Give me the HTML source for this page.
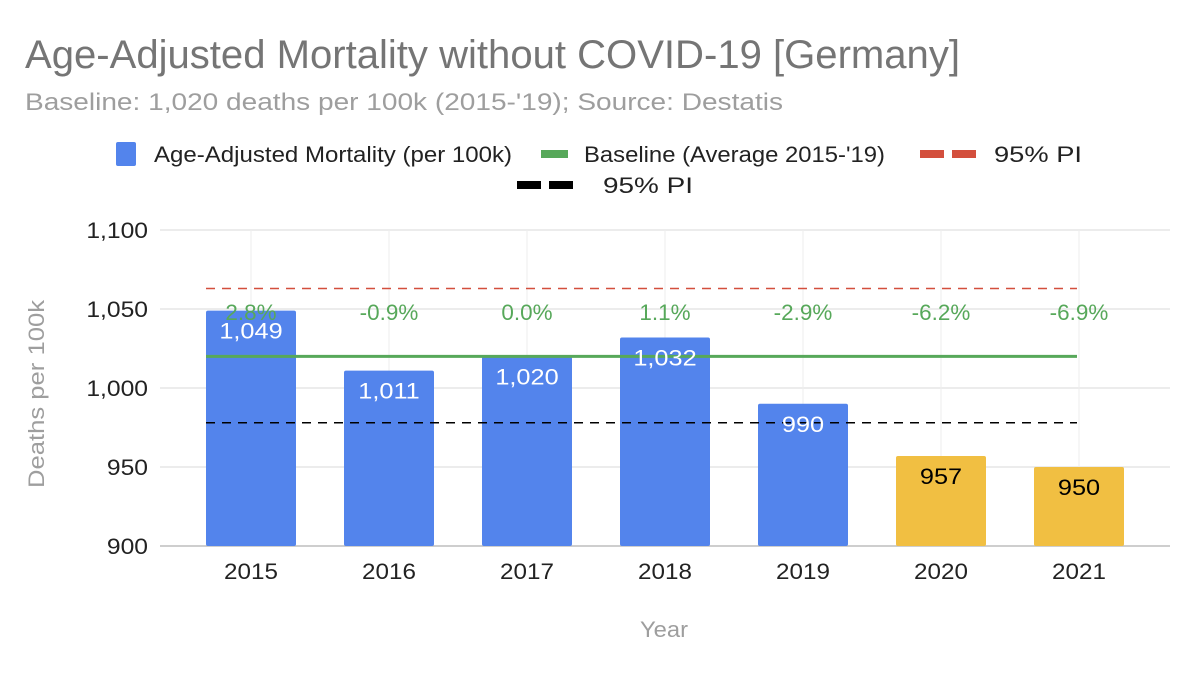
<!DOCTYPE html>
<html><head><meta charset="utf-8">
<style>
body{margin:0;background:#fff;font-family:"Liberation Sans",Arial,sans-serif;}
svg text{font-family:"Liberation Sans",Arial,sans-serif;}
</style></head>
<body>
<svg id="chart" width="1200" height="670">
<text x="25" y="68" font-size="40" fill="#757575" textLength="935" lengthAdjust="spacingAndGlyphs">Age-Adjusted Mortality without COVID-19 [Germany]</text>
<text x="25" y="110" font-size="24" fill="#9e9e9e" textLength="758" lengthAdjust="spacingAndGlyphs">Baseline: 1,020 deaths per 100k (2015-'19); Source: Destatis</text>
<g>
<g><rect x="116" y="142" width="20" height="24" rx="2" fill="#5384ec"/><text x="154" y="162" font-size="22" fill="#222" textLength="358" lengthAdjust="spacingAndGlyphs">Age-Adjusted Mortality (per 100k)</text></g>
<g><rect x="541" y="150" width="27" height="8" fill="#57a85a"/><text x="584" y="162" font-size="22" fill="#222" textLength="301" lengthAdjust="spacingAndGlyphs">Baseline (Average 2015-'19)</text></g>
<g><rect x="920" y="150" width="24" height="8" fill="#d34f3d"/><rect x="952" y="150" width="24" height="8" fill="#d34f3d"/><text x="994" y="162" font-size="22" fill="#222" textLength="88" lengthAdjust="spacingAndGlyphs">95% PI</text></g>
<g><rect x="517" y="181" width="24" height="8" fill="#000"/><rect x="549" y="181" width="24" height="8" fill="#000"/><text x="603" y="193" font-size="22" fill="#222" textLength="90" lengthAdjust="spacingAndGlyphs">95% PI</text></g>
</g>
<text transform="translate(44,394) rotate(-90)" text-anchor="middle" font-size="22" fill="#9e9e9e" textLength="188" lengthAdjust="spacingAndGlyphs">Deaths per 100k</text>
<text x="664" y="637" text-anchor="middle" font-size="22" fill="#9e9e9e" textLength="48" lengthAdjust="spacingAndGlyphs">Year</text>
<g id="grid"></g><g id="marks"></g>
</svg>
<script>
const years=["2015","2016","2017","2018","2019","2020","2021"];
const mortality=[1049,1011,1020,1032,990,957,950];
const changeLabels=["2.8%","-0.9%","0.0%","1.1%","-2.9%","-6.2%","-6.9%"];
const valueLabels=["1,049","1,011","1,020","1,032","990","957","950"];
const yTicks=[900,950,1000,1050,1100];
const yTickLabels=["900","950","1,000","1,050","1,100"];
const baseline=1020, upperPI=1063, lowerPI=978;
const NS="http://www.w3.org/2000/svg";
const y=v=>546-(v-900)*(316/200);
const xc=i=>251+i*138;
const bw=90;
function mk(tag,attrs,parent,txt){const e=document.createElementNS(NS,tag);for(const k in attrs)e.setAttribute(k,attrs[k]);if(txt!==undefined)e.textContent=txt;parent.appendChild(e);return e;}
function stretch(el,f){const w=el.getComputedTextLength();el.setAttribute('textLength',w*f);el.setAttribute('lengthAdjust','spacingAndGlyphs');}
const grid=document.getElementById('grid'),marks=document.getElementById('marks');
yTicks.forEach((t,i)=>{
 const l=mk('line',{x1:160,x2:1170,y1:y(t),y2:y(t),stroke:i==0?'#bdbdbd':'#d9d9d9','stroke-width':i==0?1.5:1},grid);
 
 
 const tx=mk('text',{x:148,y:y(t)+8,'text-anchor':'end','font-size':22,fill:'#222'},grid,yTickLabels[i]);
 
 
 stretch(tx,1.12);
});
years.forEach((yr,i)=>{
 const vl=mk('line',{x1:xc(i),x2:xc(i),y1:230,y2:546,stroke:'#eee','stroke-width':1},grid);
 
 
 const col=i>=5?'#f1bf42':'#5384ec';
 const r=mk('rect',{x:xc(i)-bw/2,y:y(mortality[i]),width:bw,height:546-y(mortality[i]),fill:col,rx:2},marks);
 
 
 const t=mk('text',{x:xc(i),y:579,'text-anchor':'middle','font-size':22,fill:'#222'},marks,yr);
 
 
 stretch(t,1.1);
});
function hline(v,color,dash,name,w){const l=mk('line',{x1:xc(0)-bw/2,x2:xc(6)-2,y1:y(v),y2:y(v),stroke:color,'stroke-width':w},marks);if(dash)l.setAttribute('stroke-dasharray',dash);
 
 }
hline(baseline,'#57a85a',null,'baseline-line',3);
hline(upperPI,'#d34f3d','9 7','upper-pi-line',1.5);
hline(lowerPI,'#000','9 7','lower-pi-line',1.5);
years.forEach((yr,i)=>{
 const p=mk('text',{x:xc(i),y:320,'text-anchor':'middle','font-size':22,fill:'#57a85a'},marks,changeLabels[i]);
 
 
 stretch(p,1.02);
 const v=mk('text',{x:xc(i),y:y(mortality[i])+28,'text-anchor':'middle','font-size':22,fill:i>=5?'#000':'#fff'},marks,valueLabels[i]);
 
 
 stretch(v,1.15);
});
</script>
</body></html>
